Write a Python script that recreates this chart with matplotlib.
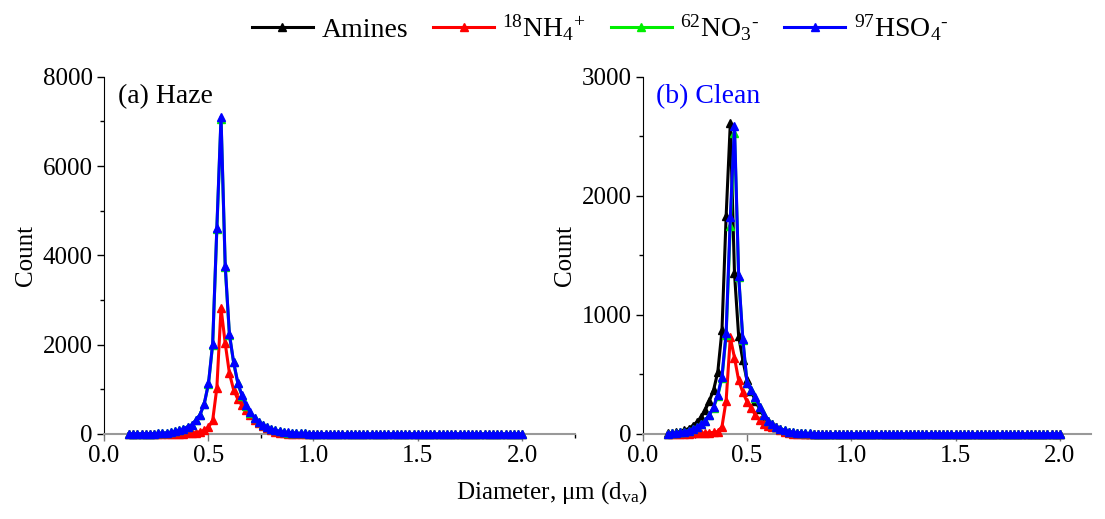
import numpy as np
import matplotlib
matplotlib.use('Agg')
import matplotlib.pyplot as plt
from matplotlib.ticker import MultipleLocator, FormatStrFormatter

plt.rcParams['font.family'] = ['Liberation Serif', 'DejaVu Serif']
plt.rcParams['mathtext.fontset'] = 'custom'
plt.rcParams['mathtext.rm'] = 'Liberation Serif'
plt.rcParams['mathtext.it'] = 'Liberation Serif:italic'

# diameter bins (um), 0.12 .. 2.00 step 0.02
diam = np.round(np.arange(0.12, 2.0001, 0.02), 2)

labels = ['Amines', r'$^{18}$NH$_4$$^{+}$', r'$^{62}$NO$_3$$^{\text{-}}$', r'$^{97}$HSO$_4$$^{\text{-}}$']
colors = ['black', 'red', '#00ee00', 'blue']

# (a) Haze  -- values from 0.12 upward (remaining bins are 0)
haze_nh4 = [0, 0, 0, 0, 0, 0, 0, 0, 0, 0, 0, 0, 0,
            5, 10, 20, 30, 50, 80, 150, 300, 1030, 2820, 2030, 1360, 990, 780, 640,
            530, 420, 310, 240, 180, 125, 85, 50, 25, 10, 3]
haze_no3 = [1, 1, 2, 3, 4, 5, 8, 12, 18, 25, 35, 55, 80, 110, 160, 200, 310, 430,
            680, 1120, 2000, 4580, 7050, 3740, 2220, 1600, 1140, 850, 630, 470, 350,
            265, 195, 145, 105, 78, 58, 43, 31, 23, 17, 12, 9, 7, 5, 4, 3, 2, 2, 1, 1]
haze_hso4 = [1, 1, 2, 3, 4, 5, 8, 12, 18, 25, 35, 55, 80, 110, 160, 200, 310, 430,
             680, 1130, 2020, 4620, 7100, 3770, 2240, 1610, 1150, 860, 640, 480, 360,
             270, 200, 150, 110, 80, 60, 45, 32, 24, 18, 13, 10, 8, 6, 5, 4, 3, 2, 1, 1]

# (b) Clean
clean_amines = [5, 8, 12, 20, 30, 45, 70, 100, 140, 200, 280, 370, 520, 870, 1830,
                2610, 1350, 820, 620, 450, 360, 280, 210, 150, 110, 80, 55, 40, 25,
                15, 8, 5, 4, 3, 2, 2, 1, 1]
clean_nh4 = [0, 0, 0, 0, 0, 0, 5, 5, 6, 8, 10, 12, 20, 60, 280, 810, 640, 450, 350,
             270, 215, 160, 115, 80, 65, 60, 55, 35, 15, 5]
clean_no3 = [3, 5, 8, 12, 18, 28, 40, 55, 80, 110, 160, 220, 320, 470, 830, 1750,
             2530, 1320, 790, 430, 365, 305, 225, 160, 110, 80, 60, 45, 30, 20, 14,
             10, 7, 5, 4, 3, 2, 2, 1, 1, 1, 1, 1, 1, 1]
clean_hso4 = [3, 5, 8, 12, 18, 28, 40, 55, 80, 110, 160, 230, 330, 480, 850, 1820,
              2590, 1330, 800, 430, 370, 310, 230, 160, 110, 80, 60, 45, 30, 20, 14,
              10, 7, 5, 4, 3, 2, 2, 1, 1, 1, 1, 1, 1, 1]


def full(vals):
    out = np.zeros(len(diam))
    out[:len(vals)] = vals
    return out


fig = plt.figure(figsize=(11.05, 5.19), dpi=100)
ax1 = fig.add_axes([0.094, 0.164, 0.426, 0.688])
ax2 = fig.add_axes([0.5816, 0.164, 0.406, 0.688])

panels = [
    (ax1, [None, haze_nh4, haze_no3, haze_hso4], 8000, 2000, '(a) Haze', 'black', 2.25),
    (ax2, [clean_amines, clean_nh4, clean_no3, clean_hso4], 3000, 1000, '(b) Clean', 'blue', 2.15),
]

for ax, series, ymax, ystep, title, tcolor, xmax in panels:
    for vals, lab, c in zip(series, labels, colors):
        if vals is None:
            continue
        ax.plot(diam, full(vals), color=c, lw=2.2, marker='^', ms=5.5,
                label=lab, zorder=3, clip_on=False)
    ax.set_xlim(0, xmax)
    ax.set_ylim(0, ymax)
    ax.xaxis.set_major_locator(MultipleLocator(0.5))
    ax.xaxis.set_minor_locator(MultipleLocator(0.25))
    ax.yaxis.set_major_locator(MultipleLocator(ystep))
    ax.yaxis.set_minor_locator(MultipleLocator(ystep / 2))
    ax.xaxis.set_major_formatter(FormatStrFormatter('%.1f'))
    ax.spines['top'].set_visible(False)
    ax.spines['right'].set_visible(False)
    ax.spines['bottom'].set_color('#999999')
    ax.spines['bottom'].set_linewidth(1.5)
    ax.tick_params(labelsize=18, direction='out', length=5, width=1, pad=3)
    ax.tick_params(which='minor', direction='out', length=3, width=1)
    ax.tick_params(axis='x', colors='#777777', labelcolor='black')
    ax.set_ylabel('Count', fontsize=18, labelpad=4)
    ax.text(0.03, 0.945, title, transform=ax.transAxes, fontsize=20,
            color=tcolor, va='center', ha='left')

h, l = ax2.get_legend_handles_labels()
fig.legend(h, l, loc='center', bbox_to_anchor=(0.543, 0.946), ncol=4,
           frameon=False, fontsize=20, handlelength=2.2, columnspacing=0.9,
           handletextpad=0.3, markerscale=1)

fig.text(0.5, 0.05, r'Diameter, μm (d$_{\mathrm{va}}$)', ha='center', va='center',
         fontsize=18)

fig.savefig('out.png', dpi=100)
